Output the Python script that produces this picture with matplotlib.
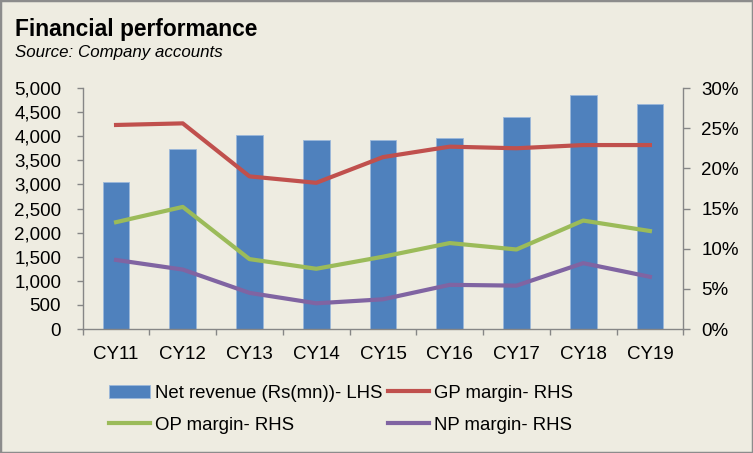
import matplotlib.pyplot as plt
from matplotlib.patches import Rectangle
from matplotlib.ticker import FuncFormatter, MultipleLocator, FixedLocator

years = ["CY11", "CY12", "CY13", "CY14", "CY15", "CY16", "CY17", "CY18", "CY19"]
net_revenue = [3040, 3740, 4020, 3930, 3920, 3960, 4405, 4860, 4665]
gp_margin = [25.4, 25.6, 19.0, 18.2, 21.4, 22.7, 22.5, 22.9, 22.9]
op_margin = [13.3, 15.2, 8.7, 7.5, 9.0, 10.7, 9.9, 13.5, 12.2]
np_margin = [8.6, 7.4, 4.5, 3.2, 3.7, 5.5, 5.4, 8.2, 6.5]

bg = '#EEECE1'
axis_grey = '#868686'

plt.rcParams['font.family'] = ['Liberation Sans', 'DejaVu Sans']

fig = plt.figure(figsize=(7.53, 4.53), dpi=100)
fig.patch.set_facecolor(bg)
fig.patches.append(Rectangle((0, 0), 1, 1, transform=fig.transFigure,
                             fill=False, edgecolor='#8c8c8c', linewidth=2.5))

ax = fig.add_axes([0.1098, 0.2737, 0.7976, 0.532])
ax.set_facecolor(bg)
x = range(len(years))
bars = ax.bar(x, net_revenue, width=0.4, color='#4F81BD', edgecolor='#9bb8db',
              linewidth=0.6, label='Net revenue (Rs(mn))- LHS')
ax.set_xlim(-0.5, len(years) - 0.5)
ax.set_ylim(0, 5000)
ax.yaxis.set_major_locator(MultipleLocator(500))
ax.yaxis.set_major_formatter(FuncFormatter(lambda v, p: f'{int(v):,}'))
ax.set_xticks(list(x))
ax.set_xticklabels(years)
ax.xaxis.set_minor_locator(FixedLocator([i - 0.5 for i in range(len(years) + 1)]))
ax.tick_params(axis='x', which='major', length=0, pad=12, labelsize=13.5)
ax.tick_params(axis='x', which='minor', length=4, color=axis_grey, width=1)
ax.tick_params(axis='y', length=4.5, color=axis_grey, width=1, pad=11, labelsize=13.5)
for side in ['top', 'right']:
    ax.spines[side].set_visible(False)
for side in ['left', 'bottom']:
    ax.spines[side].set_color(axis_grey)
    ax.spines[side].set_linewidth(1)

ax2 = ax.twinx()
l1, = ax2.plot(x, gp_margin, color='#C0504D', linewidth=3, label='GP margin- RHS')
l2, = ax2.plot(x, op_margin, color='#9BBB59', linewidth=3, label='OP margin- RHS')
l3, = ax2.plot(x, np_margin, color='#8064A2', linewidth=3, label='NP margin- RHS')
ax2.set_ylim(0, 30)
ax2.yaxis.set_major_locator(MultipleLocator(5))
ax2.yaxis.set_major_formatter(FuncFormatter(lambda v, p: f'{int(v)}%'))
ax2.tick_params(axis='y', length=5, color=axis_grey, width=1, pad=8, labelsize=13.5)
for side in ['top', 'left', 'bottom']:
    ax2.spines[side].set_visible(False)
ax2.spines['right'].set_color(axis_grey)
ax2.spines['right'].set_linewidth(1)

fig.text(0.02, 0.92, 'Financial performance', fontsize=16.4, fontweight='bold')
fig.text(0.02, 0.875, 'Source: Company accounts', fontsize=12.2, style='italic')

# column-major order so rows read: revenue, GP / OP, NP
fig.legend([bars, l2, l1, l3],
           ['Net revenue (Rs(mn))- LHS', 'OP margin- RHS', 'GP margin- RHS', 'NP margin- RHS'],
           loc='center left', bbox_to_anchor=(0.123, 0.0965), ncol=2, frameon=False,
           fontsize=13.4, handlelength=2.2, handletextpad=0.25, columnspacing=0.3,
           labelspacing=0.8)
fig.savefig('out.png', dpi=100, facecolor=bg)
